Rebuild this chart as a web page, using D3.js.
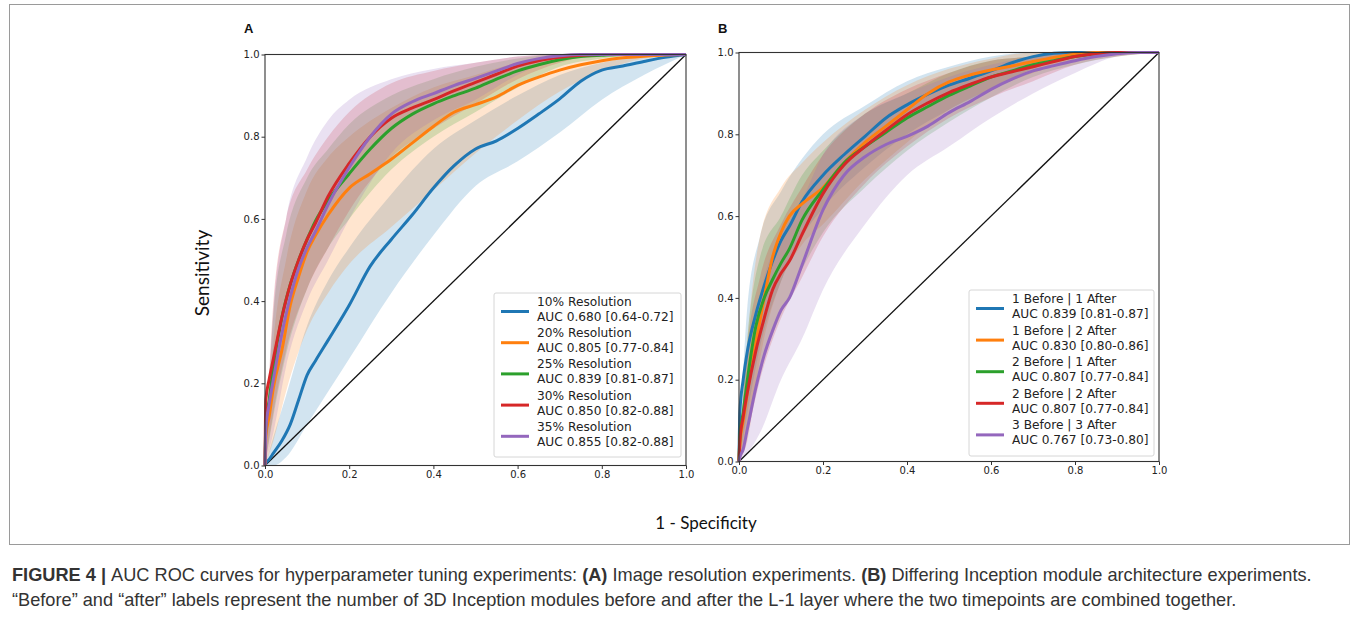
<!DOCTYPE html>
<html>
<head>
<meta charset="utf-8">
<script src="https://cdn.jsdelivr.net/npm/d3@7"></script>
<style>
  html, body { margin: 0; padding: 0; background: #fff; }
  svg { display: block; }
</style>
</head>
<body>
<svg id="fig" width="1358" height="627"></svg>
<script>
// ---- false-positive-rate grid shared by every mean ROC curve ----
const fprGrid = [0, 0.002, 0.01, 0.02, 0.04, 0.06, 0.08, 0.1, 0.12, 0.15, 0.2, 0.25, 0.3, 0.35, 0.4,
                 0.45, 0.5, 0.55, 0.6, 0.65, 0.7, 0.75, 0.8, 0.85, 0.9, 0.95, 1];
// grid for the confidence bands
const bandGrid = [0, 0.02, 0.05, 0.1, 0.15, 0.2, 0.3, 0.4, 0.5, 0.6, 0.7, 0.8, 0.9, 1];

// ---- Panel A: image resolution experiments ----
const labelsA = ["10% Resolution", "20% Resolution", "25% Resolution", "30% Resolution", "35% Resolution"];
const aucA = ["AUC 0.680 [0.64-0.72]", "AUC 0.805 [0.77-0.84]", "AUC 0.839 [0.81-0.87]",
              "AUC 0.850 [0.82-0.88]", "AUC 0.855 [0.82-0.88]"];
const tprA10 = [0, 0.005, 0.015, 0.03, 0.06, 0.10, 0.16, 0.22, 0.255, 0.305, 0.39, 0.485, 0.55, 0.61, 0.675,
                0.73, 0.77, 0.79, 0.82, 0.855, 0.892, 0.935, 0.962, 0.972, 0.983, 0.993, 1];
const tprA20 = [0, 0.07, 0.12, 0.19, 0.28, 0.39, 0.46, 0.52, 0.56, 0.61, 0.675, 0.71, 0.745, 0.785, 0.825,
                0.86, 0.878, 0.897, 0.925, 0.945, 0.962, 0.975, 0.985, 0.992, 0.996, 0.999, 1];
const tprA25 = [0, 0.10, 0.16, 0.24, 0.36, 0.44, 0.50, 0.55, 0.595, 0.645, 0.71, 0.77, 0.82, 0.855, 0.88,
                0.90, 0.918, 0.94, 0.96, 0.975, 0.987, 0.995, 0.998, 1, 1, 1, 1];
const tprA30 = [0, 0.16, 0.21, 0.26, 0.36, 0.44, 0.50, 0.55, 0.59, 0.655, 0.735, 0.80, 0.845, 0.87, 0.89,
                0.912, 0.932, 0.952, 0.972, 0.985, 0.993, 0.998, 1, 1, 1, 1, 1];
const tprA35 = [0, 0.09, 0.15, 0.21, 0.32, 0.41, 0.48, 0.53, 0.57, 0.635, 0.725, 0.80, 0.855, 0.885, 0.905,
                0.925, 0.942, 0.96, 0.978, 0.99, 0.997, 1, 1, 1, 1, 1, 1];
const loA10 = [0, 0.0, 0.02, 0.10, 0.18, 0.26, 0.42, 0.56, 0.68, 0.74, 0.81, 0.89, 0.95, 1];
const hiA10 = [0, 0.07, 0.17, 0.34, 0.45, 0.53, 0.66, 0.77, 0.84, 0.90, 0.95, 0.98, 0.995, 1];
const loA20 = [0, 0.06, 0.18, 0.33, 0.42, 0.49, 0.58, 0.67, 0.76, 0.84, 0.91, 0.96, 0.99, 1];
const hiA20 = [0, 0.30, 0.50, 0.67, 0.75, 0.80, 0.87, 0.92, 0.95, 0.98, 0.995, 1, 1, 1];
const loA25 = [0, 0.12, 0.27, 0.43, 0.53, 0.60, 0.72, 0.80, 0.86, 0.92, 0.97, 0.99, 1, 1];
const hiA25 = [0, 0.37, 0.56, 0.70, 0.77, 0.83, 0.90, 0.94, 0.97, 0.99, 1, 1, 1, 1];
const loA30 = [0, 0.13, 0.28, 0.43, 0.53, 0.62, 0.75, 0.82, 0.88, 0.94, 0.98, 1, 1, 1];
const hiA30 = [0, 0.40, 0.60, 0.72, 0.80, 0.86, 0.93, 0.96, 0.98, 0.995, 1, 1, 1, 1];
const loA35 = [0, 0.08, 0.24, 0.40, 0.50, 0.60, 0.76, 0.84, 0.89, 0.95, 0.99, 1, 1, 1];
const hiA35 = [0, 0.38, 0.60, 0.75, 0.84, 0.89, 0.94, 0.965, 0.98, 0.995, 1, 1, 1, 1];

// ---- Panel B: Inception module placement experiments ----
const labelsB = ["1 Before | 1 After", "1 Before | 2 After", "2 Before | 1 After", "2 Before | 2 After", "3 Before | 3 After"];
const aucB = ["AUC 0.839 [0.81-0.87]", "AUC 0.830 [0.80-0.86]", "AUC 0.807 [0.77-0.84]",
              "AUC 0.807 [0.77-0.84]", "AUC 0.767 [0.73-0.80]"];
const tprB11 = [0, 0.12, 0.20, 0.27, 0.36, 0.43, 0.49, 0.54, 0.575, 0.635, 0.70, 0.75, 0.795, 0.84, 0.872,
                0.898, 0.92, 0.937, 0.955, 0.975, 0.99, 0.998, 1, 1, 1, 1, 1];
const tprB12 = [0, 0.04, 0.10, 0.17, 0.29, 0.40, 0.50, 0.56, 0.60, 0.63, 0.67, 0.73, 0.78, 0.82, 0.86,
                0.90, 0.928, 0.945, 0.957, 0.967, 0.978, 0.988, 0.996, 1, 1, 1, 1];
const tprB21 = [0, 0.06, 0.12, 0.20, 0.33, 0.40, 0.445, 0.485, 0.52, 0.59, 0.665, 0.73, 0.77, 0.805, 0.84,
                0.868, 0.895, 0.918, 0.94, 0.955, 0.97, 0.98, 0.99, 0.997, 1, 1, 1];
const tprB22 = [0, 0.05, 0.11, 0.17, 0.27, 0.35, 0.42, 0.46, 0.49, 0.555, 0.655, 0.725, 0.77, 0.81, 0.848,
                0.877, 0.902, 0.922, 0.94, 0.953, 0.965, 0.978, 0.99, 0.997, 1, 1, 1];
const tprB33 = [0, 0.01, 0.03, 0.08, 0.18, 0.26, 0.32, 0.37, 0.40, 0.48, 0.615, 0.70, 0.745, 0.775, 0.795,
                0.82, 0.853, 0.88, 0.91, 0.935, 0.955, 0.968, 0.98, 0.99, 0.997, 1, 1];
const loB11 = [0, 0.12, 0.28, 0.44, 0.55, 0.62, 0.72, 0.80, 0.86, 0.91, 0.96, 0.99, 1, 1];
const hiB11 = [0, 0.38, 0.55, 0.66, 0.74, 0.80, 0.87, 0.93, 0.965, 0.99, 1, 1, 1, 1];
const loB12 = [0, 0.05, 0.25, 0.44, 0.53, 0.58, 0.69, 0.78, 0.86, 0.91, 0.95, 0.98, 1, 1];
const hiB12 = [0, 0.30, 0.55, 0.67, 0.73, 0.78, 0.86, 0.92, 0.96, 0.985, 1, 1, 1, 1];
const loB21 = [0, 0.08, 0.22, 0.36, 0.47, 0.56, 0.67, 0.76, 0.83, 0.89, 0.94, 0.97, 0.99, 1];
const hiB21 = [0, 0.30, 0.50, 0.60, 0.70, 0.76, 0.85, 0.90, 0.95, 0.98, 0.99, 1, 1, 1];
const loB22 = [0, 0.07, 0.20, 0.35, 0.45, 0.55, 0.68, 0.77, 0.84, 0.89, 0.93, 0.97, 0.99, 1];
const hiB22 = [0, 0.28, 0.45, 0.58, 0.67, 0.75, 0.85, 0.91, 0.95, 0.98, 0.99, 1, 1, 1];
const loB33 = [0, 0.02, 0.07, 0.20, 0.30, 0.42, 0.58, 0.70, 0.77, 0.84, 0.90, 0.95, 0.99, 1];
const hiB33 = [0, 0.15, 0.40, 0.55, 0.64, 0.75, 0.85, 0.90, 0.94, 0.97, 0.99, 1, 1, 1];

const tickValues = [0, 0.2, 0.4, 0.6, 0.8, 1.0];
const colors = ["#1f77b4", "#ff7f0e", "#2ca02c", "#d62728", "#9467bd"];

const panels = [
  { letter: "A", box: { left: 265, top: 54.5, width: 421, height: 411 },
    legend: { x: 494, y: 293, w: 187, h: 164 },
    tpr: [tprA10, tprA20, tprA25, tprA30, tprA35],
    lo: [loA10, loA20, loA25, loA30, loA35], hi: [hiA10, hiA20, hiA25, hiA30, hiA35],
    labels: labelsA, auc: aucA },
  { letter: "B", box: { left: 739, top: 52.5, width: 420, height: 409 },
    legend: { x: 969, y: 290, w: 185, h: 166 },
    tpr: [tprB11, tprB12, tprB21, tprB22, tprB33],
    lo: [loB11, loB12, loB21, loB22, loB33], hi: [hiB11, hiB12, hiB21, hiB22, hiB33],
    labels: labelsB, auc: aucB }
];

const svg = d3.select("#fig");
svg.append("rect").attr("width", 1358).attr("height", 627).attr("fill", "#fff");

// figure frame
svg.append("rect")
  .attr("x", 9.5).attr("y", 4.5).attr("width", 1340).attr("height", 540)
  .attr("fill", "none").attr("stroke", "#9a9a9a").attr("stroke-width", 1);

const tickFont = "'DejaVu Sans', sans-serif";

panels.forEach(p => {
  const b = p.box;
  const x = d3.scaleLinear().domain([0, 1]).range([b.left, b.left + b.width]);
  const y = d3.scaleLinear().domain([0, 1]).range([b.top + b.height, b.top]);
  const g = svg.append("g");

  // confidence bands
  p.lo.forEach((lo, i) => {
    const pts = bandGrid.map((v, k) => ({ x: v, lo: lo[k], hi: p.hi[i][k] }));
    g.append("path")
      .datum(pts)
      .attr("d", d3.area().x(d => x(d.x)).y0(d => y(d.lo)).y1(d => y(d.hi)).curve(d3.curveMonotoneX))
      .attr("fill", colors[i]).attr("fill-opacity", 0.2).attr("stroke", "none");
  });

  // chance diagonal
  g.append("path")
    .datum([0, 1])
    .attr("d", d3.line().x(d => x(d)).y(d => y(d)))
    .attr("stroke", "#111").attr("stroke-width", 1.3).attr("fill", "none");

  // mean ROC curves
  p.tpr.forEach((t, i) => {
    const pts = fprGrid.map((v, k) => [v, t[k]]);
    g.append("path")
      .datum(pts)
      .attr("d", d3.line().x(d => x(d[0])).y(d => y(d[1])).curve(d3.curveMonotoneX))
      .attr("stroke", colors[i]).attr("stroke-width", 3).attr("fill", "none")
      .attr("stroke-linejoin", "round");
  });

  // axes
  const fmt = d3.format(".1f");
  const xAxis = g.append("g").attr("transform", `translate(0,${b.top + b.height})`)
    .call(d3.axisBottom(x).tickValues(tickValues).tickFormat(fmt).tickSize(3.5).tickPadding(2));
  const yAxis = g.append("g").attr("transform", `translate(${b.left},0)`)
    .call(d3.axisLeft(y).tickValues(tickValues).tickFormat(fmt).tickSize(3.5).tickPadding(2));
  [xAxis, yAxis].forEach(a => {
    a.select(".domain").remove();
    a.selectAll(".tick line").attr("stroke", "#333").attr("stroke-width", 1);
    a.selectAll("text").attr("font-family", tickFont).attr("font-size", 10).attr("fill", "#222");
  });

  g.append("rect")
    .attr("x", b.left).attr("y", b.top).attr("width", b.width).attr("height", b.height)
    .attr("fill", "none").attr("stroke", "#333").attr("stroke-width", 1.1);

  // legend
  const L = p.legend;
  const lg = g.append("g");
  lg.append("rect")
    .attr("x", L.x).attr("y", L.y).attr("width", L.w).attr("height", L.h).attr("rx", 2)
    .attr("fill", "#fff").attr("fill-opacity", 0.85).attr("stroke", "#d6d6d6").attr("stroke-width", 1);
  const rowStep = (L.h - 8) / 5;
  p.labels.forEach((lab, i) => {
    const ty = L.y + 13 + i * rowStep;
    lg.append("line")
      .attr("x1", L.x + 7).attr("x2", L.x + 35)
      .attr("y1", ty + 5.5).attr("y2", ty + 5.5)
      .attr("stroke", colors[i]).attr("stroke-width", 3);
    const t = lg.append("text")
      .attr("font-family", tickFont).attr("font-size", 12.2).attr("fill", "#222");
    t.append("tspan").attr("x", L.x + 43).attr("y", ty).text(lab);
    t.append("tspan").attr("x", L.x + 43).attr("y", ty + 15).text(p.auc[i]);
  });

  // panel letter
  svg.append("text")
    .attr("x", b.left - 21).attr("y", 33)
    .attr("font-family", "'Liberation Sans', Arial, sans-serif").attr("font-weight", "bold")
    .attr("font-size", 13).attr("fill", "#111").text(p.letter);
});

// shared axis titles
svg.append("text")
  .attr("transform", "translate(209,273) rotate(-90)")
  .attr("text-anchor", "middle")
  .attr("font-family", "Lato, 'Open Sans', sans-serif").attr("font-size", 19).attr("fill", "#111")
  .text("Sensitivity");
svg.append("text")
  .attr("x", 706).attr("y", 529)
  .attr("text-anchor", "middle")
  .attr("font-family", "Lato, 'Open Sans', sans-serif").attr("font-size", 17).attr("fill", "#111")
  .text("1 - Specificity");

// caption
const capFont = "'Liberation Sans', Arial, sans-serif";
const cap1 = svg.append("text").attr("x", 12).attr("y", 581)
  .attr("font-family", capFont).attr("font-size", 18.2).attr("fill", "#333");
cap1.append("tspan").attr("font-weight", "bold").text("FIGURE 4 | ");
cap1.append("tspan").text("AUC ROC curves for hyperparameter tuning experiments: ");
cap1.append("tspan").attr("font-weight", "bold").text("(A)");
cap1.append("tspan").text(" Image resolution experiments. ");
cap1.append("tspan").attr("font-weight", "bold").text("(B)");
cap1.append("tspan").text(" Differing Inception module architecture experiments.");
svg.append("text").attr("x", 12).attr("y", 606)
  .attr("font-family", capFont).attr("font-size", 18.2).attr("fill", "#333")
  .text("\u201CBefore\u201D and \u201Cafter\u201D labels represent the number of 3D Inception modules before and after the L-1 layer where the two timepoints are combined together.");
</script>
</body>
</html>
